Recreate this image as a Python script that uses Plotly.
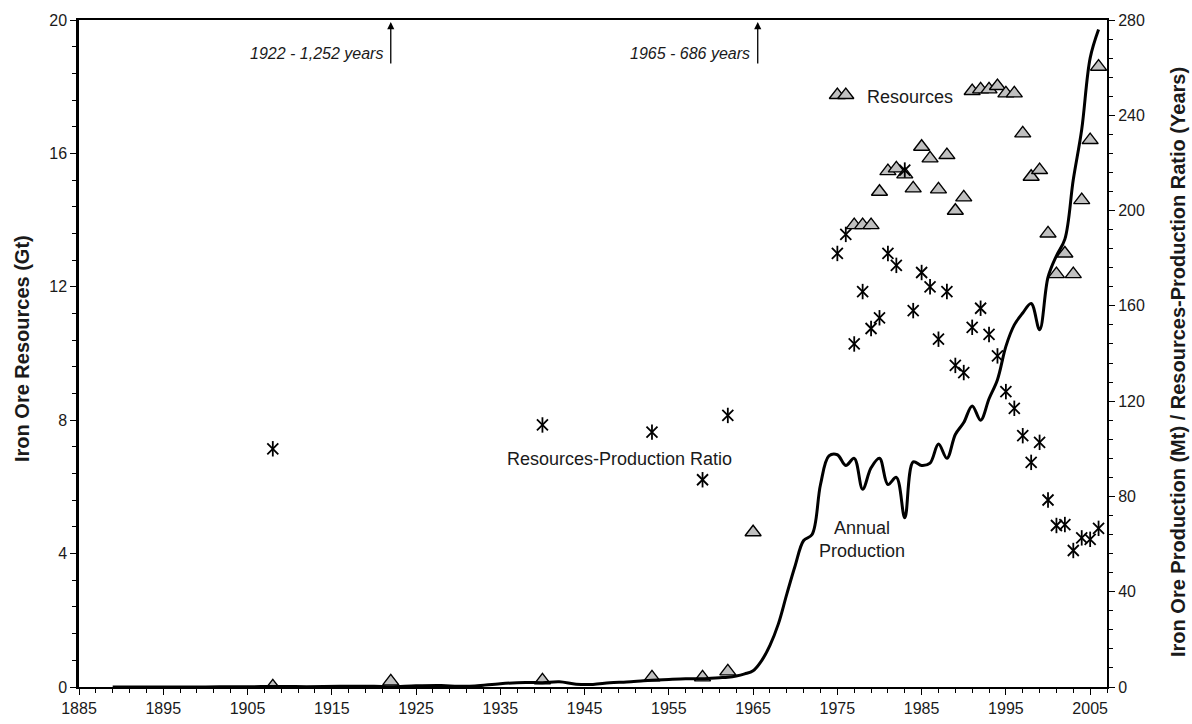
import plotly.graph_objects as go

# ---------------- data ----------------
prod_years = [1889, 1895, 1900, 1905, 1908, 1912, 1916, 1920, 1922, 1925, 1928, 1930,
              1932, 1935, 1938, 1940, 1942, 1944, 1946, 1948, 1950, 1952, 1953, 1955,
              1957, 1959, 1960, 1961, 1962, 1963, 1964, 1965, 1966, 1967, 1968, 1969,
              1970, 1971, 1972, 1973, 1974, 1975, 1976, 1977, 1978, 1979, 1980, 1981,
              1982, 1983, 1984, 1985, 1986, 1987, 1988, 1989, 1990, 1991, 1992, 1993,
              1994, 1995, 1996, 1997, 1998, 1999, 2000, 2001, 2002, 2003, 2004, 2005, 2006]
production_mt = [0.0, 0.02, 0.05, 0.1, 0.2, 0.15, 0.3, 0.35, 0.14, 0.5, 0.6, 0.3,
                 0.4, 1.4, 1.9, 1.8, 2.2, 1.2, 1.1, 1.8, 2.1, 2.6, 2.8, 3.2,
                 3.5, 3.45, 3.7, 3.9, 4.1, 4.6, 5.5, 6.8, 11, 17.5, 26.5, 39,
                 51, 61.5, 64, 85, 97, 97.5, 93, 96, 83, 92, 96, 85,
                 88, 71, 94.5, 93, 94, 102, 96, 106, 111, 118, 112, 121,
                 129, 143, 152, 157, 161, 150, 172, 181, 188, 213, 234, 264, 276]

res_years = [1908, 1922, 1940, 1953, 1959, 1962, 1965,
             1975, 1976, 1977, 1978, 1979, 1980, 1981, 1982, 1983, 1984, 1985, 1986,
             1987, 1988, 1989, 1990, 1991, 1992, 1993, 1994, 1995, 1996, 1997, 1998,
             1999, 2000, 2001, 2002, 2003, 2004, 2005, 2006]
resources_gt = [0.02, 0.17, 0.2, 0.29, 0.29, 0.47, 4.64,
                17.75, 17.75, 13.85, 13.85, 13.85, 14.85, 15.47, 15.55, 15.37, 14.95, 16.2, 15.85,
                14.92, 15.95, 14.28, 14.68, 17.87, 17.92, 17.92, 18.02, 17.8, 17.8, 16.6, 15.3,
                15.5, 13.6, 12.38, 13.0, 12.38, 14.6, 16.4, 18.6]

rpr_years = [1908, 1940, 1953, 1959, 1962,
             1975, 1976, 1977, 1978, 1979, 1980, 1981, 1982, 1983, 1984, 1985, 1986,
             1987, 1988, 1989, 1990, 1991, 1992, 1993, 1994, 1995, 1996, 1997, 1998,
             1999, 2000, 2001, 2002, 2003, 2004, 2005, 2006]
rpr_years_val = [100, 110, 107, 87, 114,
                 182, 190, 144, 166, 150.5, 155, 182, 177, 217, 158, 174, 168,
                 146, 166, 135, 132, 151, 159, 148, 139, 124, 117, 105.5, 94.3,
                 102.7, 78.5, 67.8, 68.2, 57.3, 62.6, 62, 66.6]

x_ticks = list(range(1885, 2006, 10))
left_ticks = [0, 4, 8, 12, 16, 20]
right_ticks = [0, 40, 80, 120, 160, 200, 240, 280]

off_chart_notes = [(1922, "1922 - 1,252 years"), (1965.55, "1965 - 686 years")]

FONT = "Liberation Sans, Arial, sans-serif"
TXT = "#1a1a1a"

fig = go.Figure()

fig.add_trace(go.Scatter(
    x=prod_years, y=production_mt, yaxis="y2", mode="lines",
    line=dict(color="black", width=3, shape="spline", smoothing=1.0),
    name="Annual Production", showlegend=False))

for sym in ["x-thin-open", "line-ns-open"]:
    fig.add_trace(go.Scatter(
        x=rpr_years, y=rpr_years_val, yaxis="y2", mode="markers",
        marker=dict(symbol=sym, size=11, color="black",
                    line=dict(color="black", width=1.8)),
        name="Resources-Production Ratio", showlegend=False))

fig.add_trace(go.Scatter(
    x=res_years, y=resources_gt, yaxis="y", mode="markers",
    marker=dict(symbol="triangle-up", size=14, color="#c0c0c0",
                line=dict(color="black", width=1.4)),
    name="Resources", showlegend=False))

annotations = [
    dict(x=1983.6, y=17.69, xref="x", yref="y", text="Resources", showarrow=False,
         font=dict(size=18, color=TXT, family=FONT)),
    dict(x=1949.2, y=6.83, xref="x", yref="y", text="Resources-Production Ratio",
         showarrow=False, font=dict(size=18, color=TXT, family=FONT)),
    dict(x=1977.9, y=4.42, xref="x", yref="y", text="Annual<br>Production",
         showarrow=False, font=dict(size=18, color=TXT, family=FONT)),
    # axis titles
    dict(x=22, y=349, xref="paper", yref="paper", text="<b>Iron Ore Resources (Gt)</b>",
         showarrow=False, textangle=-90, xanchor="center", yanchor="middle",
         font=dict(size=20, color=TXT, family=FONT)),
    dict(x=1178, y=362, xref="paper", yref="paper",
         text="<b>Iron Ore Production (Mt) / Resources-Production Ratio (Years)</b>",
         showarrow=False, textangle=-90, xanchor="center", yanchor="middle",
         font=dict(size=20, color=TXT, family=FONT)),
]

# convert pixel positions of the axis titles to paper coordinates
L, R, T, B = 79, 85, 20, 37
PW, PH = 1192 - L - R, 724 - T - B
for a in annotations[3:5]:
    a["x"] = (a["x"] - L) / PW
    a["y"] = (724 - B - a["y"]) / PH

for xv, label in off_chart_notes:
    annotations.append(dict(x=xv, y=0.997, xref="x", yref="paper", text="",
                            showarrow=True, arrowhead=2, arrowsize=1.1, arrowwidth=1.3,
                            arrowcolor="black", ax=0, ay=43))
    annotations.append(dict(x=xv, y=(724 - B - 53) / PH, xref="x", yref="paper",
                            text="<i>" + label + "</i>",
                            showarrow=False, xanchor="right", yanchor="middle", xshift=-6,
                            font=dict(size=16, color=TXT, family=FONT)))

fig.update_layout(
    width=1192, height=724,
    margin=dict(l=L, r=R, t=T, b=B),
    paper_bgcolor="white", plot_bgcolor="white",
    font=dict(family=FONT, size=16, color=TXT),
    showlegend=False,
    annotations=annotations,
    xaxis=dict(range=[1885, 2007], tickvals=x_ticks, ticktext=[str(v) for v in x_ticks],
               ticks="outside", ticklen=6, tickwidth=1.3, tickcolor="black",
               minor=dict(dtick=2, tick0=1885, ticks="outside", ticklen=4, tickcolor="black", tickwidth=1.2),
               showline=True, linecolor="black", linewidth=2, mirror=True,
               showgrid=False, zeroline=False, tickfont=dict(size=16), automargin=False),
    yaxis=dict(range=[0, 20], tickvals=left_ticks, ticks="outside", ticklen=6, tickwidth=1.3,
               tickcolor="black",
               minor=dict(dtick=0.8, tick0=0, ticks="outside", ticklen=4, tickcolor="black", tickwidth=1.2),
               showline=True, linecolor="black", linewidth=2.5,
               showgrid=False, zeroline=False, tickfont=dict(size=16), automargin=False),
    yaxis2=dict(range=[0, 280], tickvals=right_ticks, overlaying="y", side="right",
                ticks="outside", ticklen=6, tickwidth=1.3, tickcolor="black",
                minor=dict(dtick=8, tick0=0, ticks="outside", ticklen=4, tickcolor="black", tickwidth=1.2),
                showline=True, linecolor="black", linewidth=2,
                showgrid=False, zeroline=False, tickfont=dict(size=16), automargin=False),
)

fig.write_html("out.html")
